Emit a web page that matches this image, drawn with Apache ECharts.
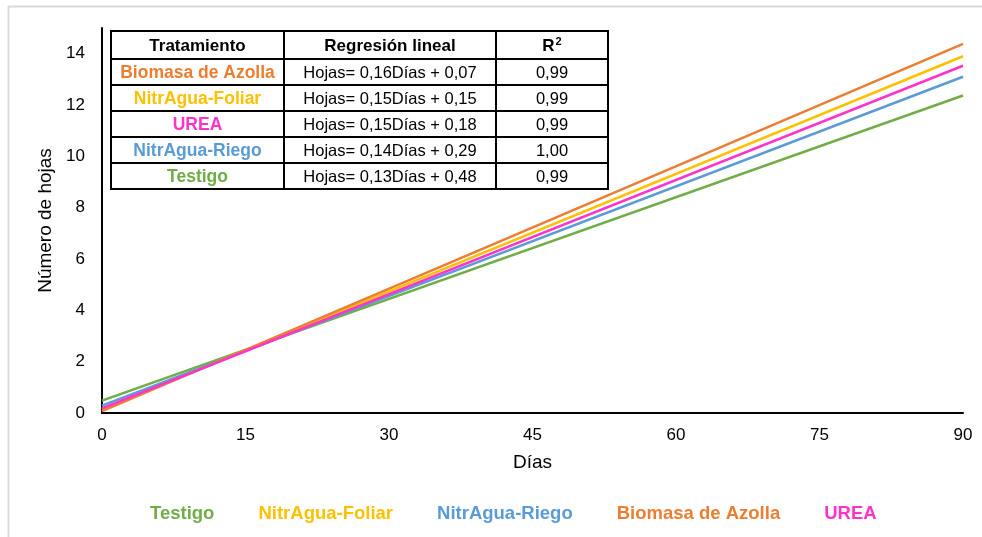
<!DOCTYPE html>
<html><head><meta charset="utf-8">
<script src="https://cdn.jsdelivr.net/npm/echarts@6/dist/echarts.min.js"></script>
<style>html,body{margin:0;padding:0;background:#fff}#c{width:982px;height:537px}</style>
</head><body><div id="c"></div>
<script>
// Data
const seriesNames = ['Testigo', 'NitrAgua-Foliar', 'NitrAgua-Riego', 'Biomasa de Azolla', 'UREA'];
const days = [0, 90];
const testigo = [0.48, 12.37];
const nitrFoliar = [0.15, 13.9];
const nitrRiego = [0.29, 13.1];
const biomasa = [0.07, 14.38];
const urea = [0.18, 13.53];
const xTicks = [0, 15, 30, 45, 60, 75, 90];
const yTicks = [0, 2, 4, 6, 8, 10, 12, 14];
// Table
const tableHeader = ['Tratamiento', 'Regresión lineal', 'R{s|2}'];
const tableTreat = ['Biomasa de Azolla', 'NitrAgua-Foliar', 'UREA', 'NitrAgua-Riego', 'Testigo'];
const tableEq = ['Hojas= 0,16Días + 0,07', 'Hojas= 0,15Días + 0,15', 'Hojas= 0,15Días + 0,18', 'Hojas= 0,14Días + 0,29', 'Hojas= 0,13Días + 0,48'];
const tableR2 = ['0,99', '0,99', '0,99', '1,00', '0,99'];

const colors = {
  'Testigo': '#70AD47',
  'NitrAgua-Foliar': '#FFC000',
  'NitrAgua-Riego': '#5B9BD5',
  'Biomasa de Azolla': '#ED7D31',
  'UREA': '#FF33CC'
};
const values = [testigo, nitrFoliar, nitrRiego, biomasa, urea];
const FONT = '"Liberation Sans", Arial, sans-serif';

const chart = echarts.init(document.getElementById('c'), null, {renderer: 'canvas'});

// table graphics
const colX = [111, 284, 496, 608];
const rowY = [31, 59, 85, 111, 137, 163, 189];
const g = [];
g.push({type: 'rect', shape: {x: 8.5, y: 6.5, width: 990, height: 540}, style: {fill: null, stroke: '#d9d9d9', lineWidth: 2}, silent: true});
g.push({type: 'rect', shape: {x: colX[0], y: rowY[0], width: colX[3] - colX[0], height: rowY[6] - rowY[0]}, style: {fill: '#fff', stroke: '#000', lineWidth: 2}, z: 10});
for (let i = 1; i < 3; i++) {
  g.push({type: 'line', shape: {x1: colX[i], y1: rowY[0], x2: colX[i], y2: rowY[6]}, style: {stroke: '#000', lineWidth: 2}, z: 11});
}
for (let j = 1; j < 6; j++) {
  g.push({type: 'line', shape: {x1: colX[0], y1: rowY[j], x2: colX[3], y2: rowY[j]}, style: {stroke: '#000', lineWidth: 2}, z: 11});
}
function cellText(txt, c, r, color, bold, size) {
  g.push({type: 'text', x: (colX[c] + colX[c + 1]) / 2, y: (rowY[r] + rowY[r + 1]) / 2 + 1, z: 12,
    style: {text: txt, fill: color, font: (bold ? 'bold ' : '') + size + 'px ' + FONT, textAlign: 'center', textVerticalAlign: 'middle',
      rich: {s: {fontSize: 11, fontWeight: 'bold', fontFamily: FONT, fill: color, padding: [0, 0, 9, 1]}}}});
}
tableHeader.forEach((h, c) => cellText(h, c, 0, '#000', true, 17));
tableTreat.forEach((t, r) => {
  cellText(t, 0, r + 1, colors[t], true, 17.5);
  cellText(tableEq[r], 1, r + 1, '#000', false, 16.5);
  cellText(tableR2[r], 2, r + 1, '#000', false, 16.5);
});

const option = {
  animation: false,
  backgroundColor: '#fff',
  grid: {left: 102, top: 28, width: 861, height: 385, containLabel: false},
  xAxis: {
    type: 'value', min: 0, max: 90, interval: 15,
    name: 'Días', nameLocation: 'middle', nameGap: 40,
    nameTextStyle: {fontFamily: FONT, fontSize: 19, color: '#000'},
    axisLine: {show: true, lineStyle: {color: '#000', width: 2}},
    axisTick: {show: false},
    splitLine: {show: false},
    axisLabel: {fontFamily: FONT, fontSize: 17, color: '#000', margin: 14,
      formatter: v => xTicks.includes(v) ? String(v) : ''}
  },
  yAxis: {
    type: 'value', min: 0, max: 15, interval: 2,
    name: 'Número de hojas', nameLocation: 'middle', nameGap: 46,
    nameTextStyle: {fontFamily: FONT, fontSize: 19, color: '#000'},
    axisLine: {show: true, lineStyle: {color: '#000', width: 2}},
    axisTick: {show: false},
    splitLine: {show: false},
    axisLabel: {fontFamily: FONT, fontSize: 17, color: '#000', margin: 17, showMaxLabel: false,
      formatter: v => yTicks.includes(v) ? String(v) : ''}
  },
  legend: {
    left: 140, top: 499, itemWidth: 0, itemHeight: 0, itemGap: 39,
    icon: 'rect',
    textStyle: {fontFamily: FONT, fontSize: 18.5, fontWeight: 'bold'},
    data: seriesNames.map(n => ({name: n, textStyle: {color: colors[n]}}))
  },
  graphic: g,
  series: seriesNames.map((n, i) => ({
    name: n, type: 'line', showSymbol: false, symbol: 'none',
    data: days.map((d, k) => [d, values[i][k]]),
    lineStyle: {color: colors[n], width: 2.5},
    itemStyle: {color: colors[n]}
  }))
};
chart.setOption(option);
</script>
</body></html>
